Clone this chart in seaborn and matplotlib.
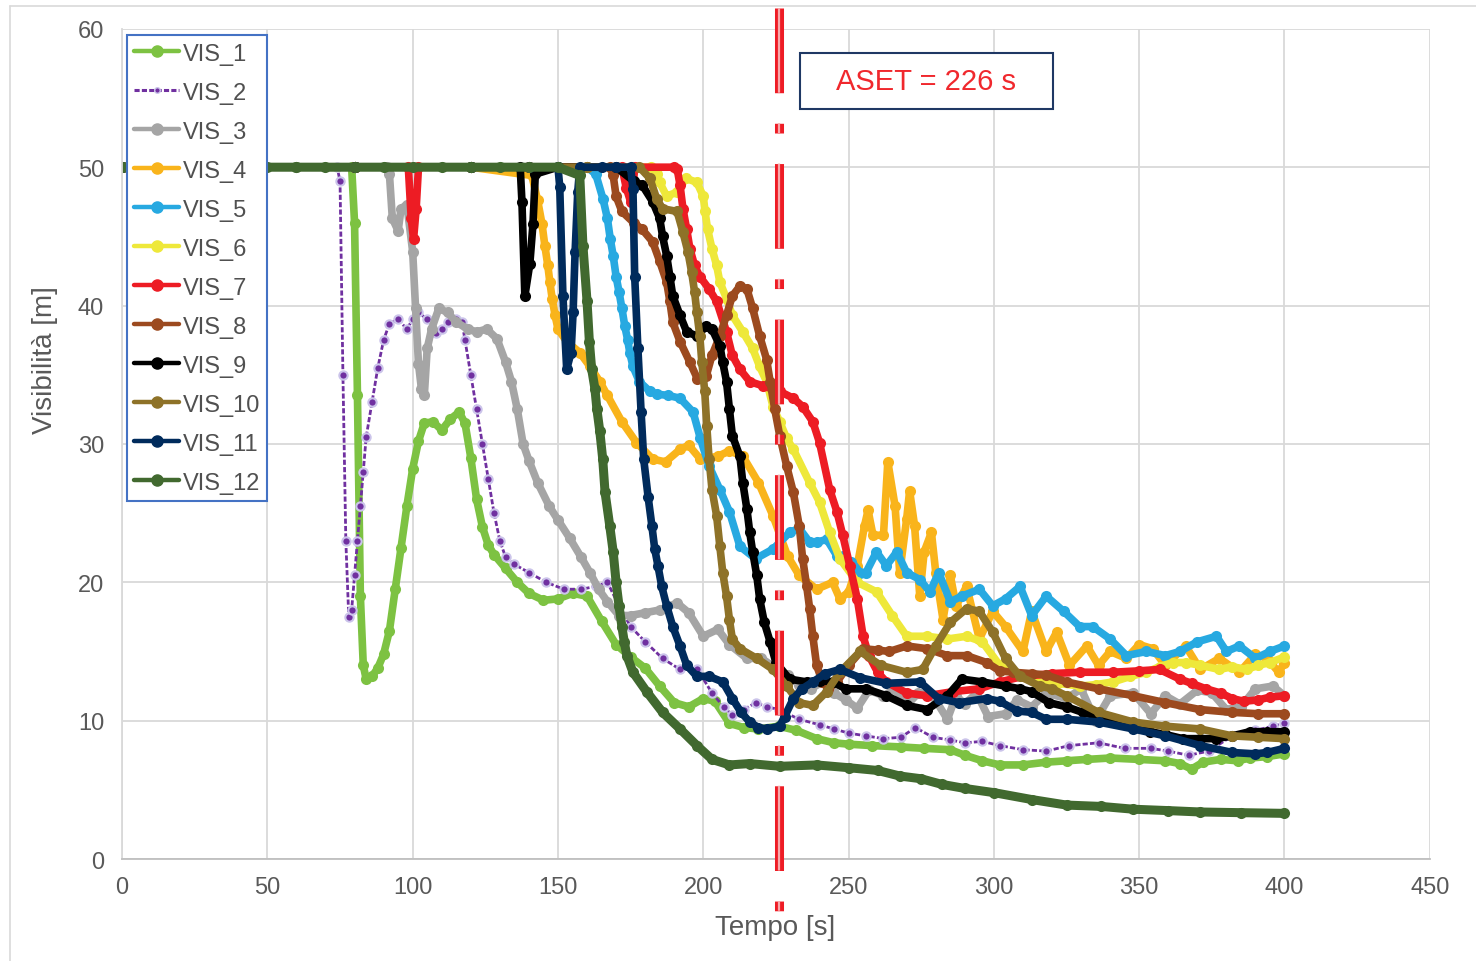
import matplotlib
matplotlib.use("Agg")
import matplotlib.pyplot as plt
import seaborn as sns
from matplotlib.lines import Line2D
from matplotlib.patches import Rectangle

# ---------------- data: (time [s], visibility [m]) ----------------
vis1 = [(0,50),(20,50),(40,50),(60,50),(79,50),(80,46),(81,33.5),(82,19),(83,14),(84,13),(86,13.2),(88,13.8),(90,14.8),(92,16.5),(94,19.5),(96,22.5),(98,25.5),(100,28.2),(102,30.2),(104,31.5),(107,31.6),(110,31),(113,31.8),(116,32.3),(118,31.5),(120,29),(122,26),(124,24),(126,22.7),(128,22),(132,21),(136,20),(140,19.2),(145,18.7),(150,18.8),(155,19.2),(160,19),(165,17.2),(170,15.5),(175,14.6),(180,13.8),(185,12.5),(190,11.3),(195,11),(200,11.6),(204,11.4),(209,9.8),(214,9.5),(219,9.4),(226,9.6),(232,9.3),(239,8.7),(245,8.4),(250,8.3),(258,8.2),(268,8.1),(276,8),(285,7.9),(290,7.5),(296,7.1),(302,6.8),(310,6.8),(318,7),(325,7.1),(332,7.2),(340,7.3),(350,7.2),(359,7.1),(364,6.9),(368,6.5),(372,7),(378,7.2),(384,7.1),(388,7.3),(394,7.4),(400,7.6)]
vis2 = [(0,50),(20,50),(40,50),(60,50),(74,50),(75,49),(76,35),(77,23),(78,17.5),(79,18),(80,20.5),(81,23),(82,25.5),(83,28),(84,30.5),(86,33),(88,35.5),(90,37.5),(92,38.7),(95,39),(98,38.3),(100,39),(102,39.5),(105,39),(108,38),(110,38.3),(112,38.8),(115,39),(117,38.8),(118,37.5),(120,35),(122,32.5),(124,30),(126,27.5),(128,25),(130,23),(132,21.8),(135,21.3),(140,20.7),(146,20),(152,19.5),(158,19.5),(163,19.7),(167,20),(171,18.3),(175,16.8),(180,15.7),(186,14.5),(192,13.7),(198,13.7),(203,12),(207,11),(210,10.4),(214,10.8),(218,11.3),(222,11),(226,10.8),(233,10.1),(240,9.7),(245,9.4),(250,9.1),(256,8.9),(262,8.7),(268,8.8),(273,9.5),(279,8.8),(285,8.6),(290,8.4),(296,8.5),(302,8.2),(310,7.9),(318,7.8),(326,8.2),(336,8.4),(345,8),(354,8),(360,7.8),(367,7.5),(374,7.8),(382,8.9),(390,9.3),(396,9.6),(400,9.8)]
vis3 = [(0,50),(20,50),(40,50),(60,50),(80,50),(91,50),(92,49.5),(93,46.3),(95,45.4),(96,47),(98,47.3),(100,43.9),(101,39.8),(102,35.8),(103,34),(104,33.5),(105,36.9),(106.5,38.3),(109,39.8),(112,39.5),(115,38.8),(119,38.3),(122,38.1),(125.5,38.3),(129,37.6),(132,35.9),(134,34.5),(136,32.5),(138,30),(140,28.8),(143,27.2),(147,25.5),(150,24.5),(154,23.2),(158,21.8),(161,20.7),(164,19.5),(167,18.6),(171,17.6),(175,17.6),(180,17.8),(185,18),(191,18.5),(195,17.8),(200,16.1),(205,16.6),(209,15.5),(215,14.5),(220,14.5),(225,13.8),(229,13.3),(233,12.6),(237,12.3),(241,12.8),(245,12),(249,11.5),(253,10.9),(257,12.2),(262,11.8),(266,12.3),(270,11.1),(274,12),(279,11.8),(284,10.1),(287,11.8),(290,11.2),(294,12),(298,10.3),(304,10.5),(308,11.5),(313,11),(318,12),(325,11.6),(330,12.3),(335,10),(340,11.8),(348,12),(354,10.5),(359,11.8),(364,11.2),(370,12.2),(375,12),(380,10.8),(385,11),(390,12.3),(396,12.5),(400,11.8)]
vis4 = [(0,50),(40,50),(80,50),(120,50),(141,49.4),(143,47.6),(144.5,45.9),(145.5,44.3),(146.5,42.9),(147.2,41.7),(148,40.5),(149,39.3),(150,38.3),(153,37.4),(157.5,36.6),(161,35.6),(164.4,34.5),(167,33.5),(172,31.6),(177,30.1),(182.6,28.9),(187,28.7),(192,29.6),(195,29.9),(199,28.9),(205,29.1),(209,29.5),(213.6,29.1),(219,27.2),(224,24.8),(229,21.9),(233,20.5),(239,19.5),(244.5,20),(247,18.8),(250,19.3),(253,21.2),(255.5,24.1),(256.7,25.2),(258.4,23.4),(262,23.4),(263.5,28.7),(266,25.5),(267.6,20.7),(270,24.6),(271,26.6),(272.7,24.1),(274.5,19),(276,22.2),(278.5,23.6),(280,20.7),(282.5,17.3),(285,20.5),(287,18.3),(290.6,19.7),(295,15.9),(299.6,17.9),(304,16.8),(310,15),(313,17.9),(318,15),(321.6,16.4),(326,14),(332,15.4),(336,14),(340,15),(345.6,14.5),(350,15.5),(354.6,15.2),(359,14),(366,15.4),(371,13.7),(377.6,14.5),(384.5,13.5),(390,14.8),(394,14.5),(398,13.5),(400,14.2)]
vis5 = [(0,50),(40,50),(80,50),(120,50),(160,50),(163,49.5),(165.5,47.7),(167,46.3),(168,44.8),(169,43.6),(170,42.1),(171,41),(172,39.8),(173,38.5),(174,37.5),(174.7,36.6),(175.8,35.6),(178,34.5),(181.6,33.8),(184,33.6),(188,33.5),(192,33.3),(196.5,32.3),(199,30.4),(202,28.4),(205.7,26.7),(209,25.1),(212.6,22.6),(218,21.7),(224,22.4),(229.7,23.6),(233,23.9),(236.6,22.9),(239,22.9),(242.5,23.1),(246,21.9),(248,21.9),(251,21.5),(254,20.7),(256,20.7),(259.6,22.2),(263,21.2),(266.6,22.2),(270,20.7),(274.5,20.2),(278,19.3),(281,20.7),(285,18.6),(289,19),(295,19.5),(299.6,18.3),(304,18.8),(309,19.7),(313,17.6),(318,19),(324,17.9),(329.5,16.8),(334,16.8),(340,15.9),(345.6,14.7),(352.5,15),(359,14.7),(364,15),(370,15.7),(376.6,16.1),(380,15),(384.5,15.4),(390,14.5),(395,15),(400,15.4)]
vis6 = [(0,50),(40,50),(80,50),(120,50),(160,50),(182,50),(184,49.5),(185,48.9),(187.4,47.9),(191,48.2),(194,49.2),(197.8,48.9),(200,47.9),(200.6,46.8),(201.5,45.5),(203,44.1),(204.6,42.9),(205.7,41.7),(208,40.5),(210,39.3),(213.6,38.1),(217,36.9),(219.4,35.6),(221.8,34.5),(224,32.7),(226.3,31.6),(228.7,30.4),(231,29.6),(236.6,27.2),(240,25.8),(243.5,23.6),(247,21.7),(253,20),(259.7,19.3),(265,17.6),(270,16.1),(277,16.1),(284,15.9),(290.6,16.1),(296,15.7),(302,14),(308,13.3),(315.7,13),(322,12.7),(329.5,12.5),(335,12.6),(341,12.8),(347,13.2),(352.5,13.5),(357,13.9),(361.5,14.2),(366,14.2),(371,14),(377.6,13.7),(382,13.9),(387,13.7),(391,14),(395,14.2),(400,14.6)]
vis7 = [(0,50),(40,50),(80,50),(98.5,50),(99.5,46.3),(100.3,44.8),(101.2,47),(102,50),(140,50),(172,50),(173.5,48.5),(175,47.5),(176.5,50),(190,50),(191,49.9),(192,48.7),(193,47),(194.3,45.5),(195.4,44.1),(197,42.9),(198.8,42.1),(202,41.2),(204.6,40.3),(208,38.1),(210,36.4),(212.6,35.4),(216,34.5),(220.5,34.2),(226.3,33.8),(231,33.3),(234.2,32.7),(237.7,31.6),(240,30.1),(243.5,26.7),(246,25.1),(248,23.4),(250.4,21.2),(253,18.8),(255,16.1),(257,14.7),(260,13.5),(263,12.8),(270,12),(277,11.8),(286,12.1),(295,12.3),(302,12.8),(310,13.2),(320,13.4),(329.5,13.5),(341,13.5),(350,13.6),(357,13.7),(364,13),(368,12.7),(373,12.3),(378,12),(382,11.6),(386,11.4),(391,11.5),(395,11.7),(400,11.8)]
vis8 = [(0,50),(40,50),(80,50),(120,50),(160,50),(168,50),(169,49.4),(170,47.9),(172,46.8),(176,46),(179,45.5),(182.6,44.6),(185,43.2),(187.4,41.7),(188.5,40.3),(189.5,38.8),(192,37.4),(195.4,35.9),(198,34.7),(201,34.9),(203,36.4),(205.7,37.8),(208,39.3),(210,40.7),(212.6,41.4),(215,41.2),(217,39.8),(219.4,37.8),(221.8,36.1),(223,34.5),(224.6,32.5),(226.3,30.6),(228.7,28.4),(231,26.5),(233,24.1),(234.2,21.7),(235.6,19.7),(236.6,18.1),(237.7,16.1),(239,14),(241,12.8),(243,12.3),(246,12.8),(250,14),(255,15.2),(260,15.1),(264,15),(270,15.4),(277,15.2),(284,14.7),(290.6,14.7),(297.5,14.2),(302,13.6),(306.5,13.5),(313,13.4),(318,13.3),(325,12.8),(336,12.3),(348,11.8),(359,11.3),(371,10.8),(382,10.6),(391,10.5),(400,10.5)]
vis9 = [(0,50),(40,50),(80,50),(120,50),(137,50),(137.6,47.5),(138.6,40.7),(140.3,43),(141.4,45.9),(142.2,49.5),(150,50),(170,50),(176,49),(179,48.7),(182.6,47.5),(185,46.3),(186,45),(187.4,43.6),(188.5,42.1),(189.5,40.7),(192,39.3),(194.3,38.1),(197.8,37.8),(201,38.5),(203,38.3),(205.7,37.1),(206.7,35.9),(208,34.5),(209,32.5),(210,30.6),(212.6,29.1),(213.6,27.2),(215,25.3),(216,23.6),(217,22.2),(218.4,20.5),(219.4,18.8),(221,17.1),(223,15.7),(225,14.2),(229.7,13),(235.6,12.8),(240,12.9),(244.5,12.8),(249,12.3),(256,12.3),(263,11.8),(270,11.1),(277,10.8),(284,11.8),(289,13),(296,12.8),(304,12.5),(309,12.3),(313,12.1),(319,11.3),(325,11),(330.5,10.6),(336,10.3),(342,9.9),(348,9.6),(353.6,9.2),(359,9),(365,8.7),(371,8.7),(376.6,8.7),(382,8.9),(388,9.2),(394,9.2),(400,9.2)]
vis10 = [(0,50),(40,50),(80,50),(120,50),(160,50),(178,50),(181.6,49.2),(184,47.7),(186,47),(191,46.8),(193,45.3),(194.7,43.9),(196,42.4),(197,41),(197.8,39.5),(198.8,37.8),(199.5,35.9),(200.5,33.8),(201.2,31.3),(202,28.9),(203,26.7),(204.6,24.8),(205.7,22.6),(206.7,20.7),(208,19),(209,17.3),(210,15.9),(212.6,15.2),(218.4,14.5),(224,13.7),(228.7,12.5),(233,11.3),(237.7,11.1),(242.5,12.1),(247,13.5),(254,15),(261,14),(270,13.5),(275.5,13.7),(280,15.4),(285,17.1),(290.6,18.1),(295,17.9),(299.6,16.4),(304,14.5),(309,13.2),(315.7,12.5),(320,12.3),(325,11.8),(336,10.6),(348,9.9),(359,9.6),(371,9.4),(382,8.9),(391,8.8),(400,8.7)]
vis11 = [(0,50),(40,50),(80,50),(120,50),(140,50),(150,50),(150.6,48.6),(151.7,40.7),(153,35.4),(154.5,36.6),(155.2,39.5),(155.9,43.9),(156.8,48.2),(157.5,50),(165,50),(170,50),(175,50),(175.8,48.4),(176.4,42.1),(177.5,36.9),(178.6,32.3),(179.5,28.9),(181,26.2),(182.3,24.1),(183.3,22.4),(184.4,21.2),(185.7,19.7),(187.4,18.3),(189.5,16.8),(192,15.4),(194.3,14),(197.8,13.2),(202,13.2),(206.7,12.8),(210,11.6),(213,10.6),(216,9.9),(219,9.5),(221.8,9.4),(226.3,9.6),(228,10.3),(231,11.6),(234,12.3),(237.7,12.8),(242,13.4),(247,13.7),(254,13.1),(263,12.7),(274.5,12.8),(281,11.6),(288,11.3),(297.5,11.6),(302,11.4),(308,10.7),(313,10.6),(318,10.1),(325,10.1),(336,9.9),(348,9.4),(359,8.9),(371,8.2),(382,7.7),(390,7.6),(394,7.7),(400,8)]
vis12 = [(0,50),(10,50),(20,50),(30,50),(40,50),(50,50),(60,50),(70,50),(80,50),(90,50),(100,50),(110,50),(120,50),(130,50),(140,50),(150,50),(157.5,49.4),(158.6,44.3),(160,40.3),(160.8,37.4),(161.6,35.4),(162.7,34),(163.4,32.5),(164.4,30.9),(165.4,28.9),(166.2,26.5),(167.8,24.1),(169,22.2),(170,20),(171,18.3),(172,16.8),(172.8,15.7),(173.7,14.7),(175.8,13.5),(180.5,12.1),(186,10.6),(192,9.4),(197.8,8.2),(203,7.2),(209,6.8),(216,6.9),(226.3,6.7),(239,6.8),(250,6.6),(260,6.4),(267.6,6),(275,5.8),(282,5.4),(290,5.1),(300,4.8),(313,4.3),(325,3.9),(337,3.8),(348,3.6),(360,3.5),(371,3.4),(385,3.35),(400,3.3)]

series_names = ["VIS_1","VIS_2","VIS_3","VIS_4","VIS_5","VIS_6","VIS_7","VIS_8","VIS_9","VIS_10","VIS_11","VIS_12"]
series_data = [vis1,vis2,vis3,vis4,vis5,vis6,vis7,vis8,vis9,vis10,vis11,vis12]
series_colors = ["#7DC242","#7030A0","#A5A5A5","#F9B41B","#27A9E1","#EEE83A",
                 "#ED1C24","#9C4A1F","#000000","#8E7228","#002B5C","#41692F"]

x_ticks = [0,50,100,150,200,250,300,350,400,450]
y_ticks = [0,10,20,30,40,50,60]
aset_time = 226
aset_label = "ASET = 226 s"

# ---------------- style ----------------
sns.set_theme(style="white")
plt.rcParams["font.family"] = ["Liberation Sans", "DejaVu Sans"]
plt.rcParams["lines.scale_dashes"] = False

fig = plt.figure(figsize=(14.76, 9.62), dpi=100)
ax = fig.add_axes([0.0827, 0.106, 0.886, 0.863])

for name, data, col in zip(series_names, series_data, series_colors):
    t = [p[0] for p in data]
    v = [p[1] for p in data]
    if name == "VIS_2":
        sns.lineplot(x=t, y=v, ax=ax, color=col, lw=2.0, ls="--", marker="o",
                     markersize=6, markerfacecolor=col, markeredgecolor="#CBC4EA",
                     markeredgewidth=1.5, estimator=None, sort=False, legend=False)
    else:
        lw = 6.5 if name == "VIS_12" else 5.5
        sns.lineplot(x=t, y=v, ax=ax, color=col, lw=lw, marker="o",
                     markersize=8, markerfacecolor=col, markeredgecolor=col,
                     markeredgewidth=0, estimator=None, sort=False, legend=False)

ax.set_xlim(0, 450)
ax.set_ylim(0, 60)
ax.set_xticks(x_ticks)
ax.set_yticks(y_ticks)
ax.grid(True, color="#D9D9D9", lw=1.3)
ax.set_axisbelow(True)
for s in ["top", "right"]:
    ax.spines[s].set_visible(False)
ax.spines["left"].set_color("#D9D9D9")
ax.spines["bottom"].set_color("#BFBFBF")
ax.spines["left"].set_linewidth(1.3)
ax.spines["bottom"].set_linewidth(1.3)
ax.tick_params(axis="both", length=0, labelsize=17, labelcolor="#595959")
ax.tick_params(axis="y", pad=13)
ax.tick_params(axis="x", pad=12)

ax.set_xlabel("Tempo [s]", fontsize=20, color="#595959")
ax.xaxis.set_label_coords(0.499, -0.066)
ax.set_ylabel("Visibilità [m]", fontsize=20, color="#595959", va="center")
ax.yaxis.set_label_coords(-0.059, 0.602)

# ASET vertical line (double red dash-dot)
ax.plot([aset_time, aset_time], [61.5, -4.5], color="#EE1C25", lw=6.5,
        dashes=(61, 22, 7, 22), clip_on=False, zorder=20, dash_capstyle="butt")
ax.plot([aset_time, aset_time], [61.5, -4.5], color="#F7A8AB", lw=1.6,
        dashes=(61, 22, 7, 22), clip_on=False, zorder=21, dash_capstyle="butt")

# ASET label box
ax.add_patch(Rectangle((233.2, 54.2), 87.0, 4.07, facecolor="white",
                       edgecolor="#1F3864", lw=1.5, zorder=22))
ax.text(276.7, 56.25, aset_label, ha="center", va="center", fontsize=21,
        color="#F0282D", zorder=23)

# legend
handles = []
for name, col in zip(series_names, series_colors):
    if name == "VIS_2":
        handles.append(Line2D([], [], color=col, lw=2.2, ls="--", marker="o",
                              markersize=4, markerfacecolor=col, markeredgecolor="#CBC4EA"))
    else:
        handles.append(Line2D([], [], color=col, lw=3.2, marker="o",
                              markersize=8, markerfacecolor=col, markeredgecolor=col))
leg = ax.legend(handles, series_names, loc="upper left", bbox_to_anchor=(0.004, 0.992),
                frameon=True, fancybox=False, edgecolor="#4472C4", framealpha=1,
                fontsize=17, labelspacing=0.72, handlelength=1.9, handletextpad=0.15,
                borderpad=0.3, borderaxespad=0, labelcolor="#505050")
leg.get_frame().set_linewidth(1.5)
leg.set_zorder(30)

# chart-area border (left/top)
fig.add_artist(Line2D([10/1476, 10/1476], [0, 1 - 7/962], transform=fig.transFigure,
                      color="#D9D9D9", lw=1.2))
fig.add_artist(Line2D([10/1476, 1], [1 - 7/962, 1 - 7/962], transform=fig.transFigure,
                      color="#D9D9D9", lw=1.2))

fig.savefig("out.png", dpi=100)
